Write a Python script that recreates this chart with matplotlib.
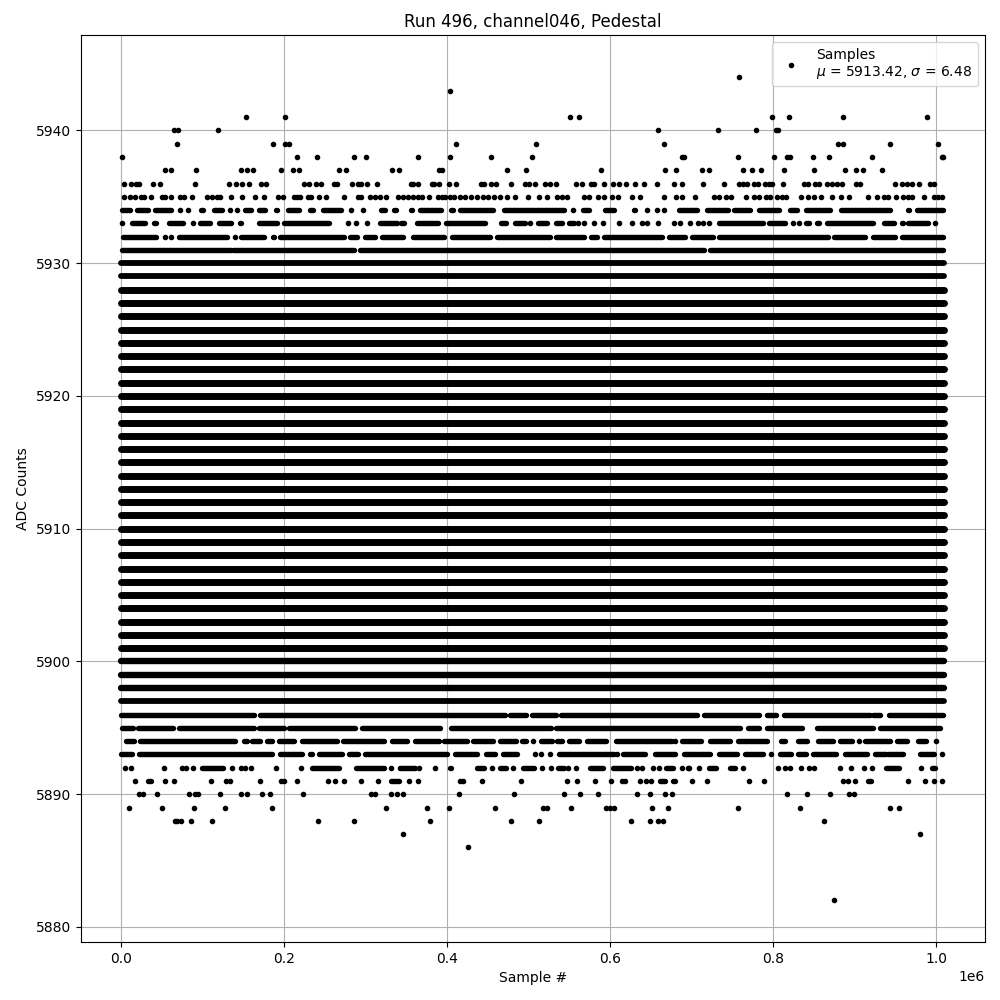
import matplotlib
matplotlib.use("Agg")
import matplotlib.pyplot as plt

# Sample positions are in units of 1e6 samples.
# Single visible points per ADC level
pts_5944 = [.758]
pts_5943 = [.403]
pts_5941 = [.153, .201, .551, .562, .799, .820, .886, .989]
pts_5940 = [.065, .069, .119, .659, .732, .779, .803, .806]
pts_5939 = [.068, .186, .201, .206, .411, .509, .666, .880, .886, .943, 1.003]
pts_5938 = [.001, .216, .240, .285, .300, .364, .403, .454, .504, .688, .691, .757, .801, .817, .821, .849, .869, .921, 1.007, 1.008]
pts_5937 = [.054, .061, .092, .147, .154, .162, .196, .211, .218, .267, .276, .332, .341, .390, .394, .473, .497, .589, .667, .681,
            .713, .721, .763, .774, .785, .813, .850, .888, .902, .910, .934]
pts_5936 = [.003, .012, .018, .022, .039, .047, .090, .132, .141, .148, .157, .171, .178, .224, .230, .239, .245, .261, .265, .283, .290, .294, .301, .314,
            .356, .358, .364, .381, .384, .390, .402, .411, .441, .445, .454, .460, .478, .495, .500, .508, .520, .526, .533, .558, .565, .576, .580, .592, .603, .611, .619, .630, .641, .657, .678, .688,
            .714, .740, .758, .763, .768, .776, .781, .790, .795, .799, .812, .838, .843, .851, .856, .866, .872, .878, .885, .902, .907, .950, .958, .964, .970, .979, .992, .997]
pts_5935 = [.003, .011, .017, .024, .028, .036, .050, .053, .061, .072, .077, .087, .105, .111, .117, .121, .135, .148, .164, .175, .192, .198, .212, .215, .219, .229, .233, .243, .251, .273, .290, .294, .305, .311, .317, .325, .340,
            .346, .352, .358, .364, .369, .378, .388, .394, .397, .403, .408, .416, .422, .429, .437, .444, .450, .457, .465, .473, .483, .499, .513, .522, .535, .541, .547, .568, .574, .585, .592, .602, .610, .627, .637, .666, .681, .688,
            .704, .727, .734, .742, .748, .767, .777, .783, .791, .796, .805, .811, .816, .834, .843, .850, .859, .872, .883, .893, .916, .927, .936, .941, .951, .959, .965, .970, .985, .997, 1.002, 1.007]
pts_5934 = [.072, .082, .133, .142, .282, .297, .554, .645, .657, .666]
pts_5933 = [.001, .088, .278, .288, .301, .502, .560, .568, .580, .591, .611, .627, .639, .645, .659, .678, .686,
            .698, .708, .714, .721, .824, .832, .999]
pts_5932 = [.053, .061, .139]
pts_5894 = [.505, .680, .905, .9999]
pts_5893 = [.508, .515, .526, .608, .797, 1.007]
pts_5892 = [.004, .012, .052, .074, .079, .088, .136, .147, .152, .159, .190, .220, .331, .342, .365, .385, .455, .481, .516, .527, .548, .558, .633, .639, .653, .660, .688, .695,
            .697, .709, .763, .806, .815, .821, .834, .844, .850, .882, .896, .911, .921, .981]
pts_5891 = [.017, .054, .065, .110, .128, .133, .170, .196, .199, .216, .254, .262, .273, .294, .315, .353, .364, .416, .419, .443, .491, .547, .559, .581, .601, .615, .618, .637, .644, .650,
            .700, .719, .770, .789, .886, .892, .900, .965, .986, .997, 1.007]
pts_5890 = [.022, .027, .044, .083, .090, .094, .121, .147, .154, .173, .182, .223, .306, .311, .338, .331, .346, .414, .482, .543, .563, .585, .633, .649, .667, .676,
            .817, .841, .870, .893, .899]
pts_5889 = [.009, .050, .089, .127, .185, .325, .375, .402, .459, .518, .522, .552, .595, .600, .605, .651, .671, .757, .833, .943, .954]
pts_5888 = [.066, .068, .073, .085, .111, .241, .285, .379, .478, .513, .626, .649, .659, .665, .862]
pts_5887 = [.346, .980]
pts_5886 = [.426]
pts_5882 = [.875]

# Stretches of a level where the points overlap into a solid run: (start, end)
runs_5934 = [(.001, .010), (.019, .032), (.041, .061), (.098, .100), (.114, .124), (.152, .159), (.169, .176), (.190, .191), (.205, .218), (.231, .235), (.248, .269), (.307, .308), (.319, .324), (.335, .337), (.355, .357), (.367, .392), (.405, .407), (.416, .456), (.469, .543), (.566, .574), (.593, .605), (.629, .630), (.685, .707), (.719, .744), (.752, .772), (.783, .807), (.821, .829), (.840, .870), (.883, .944), (.956, .956), (.966, .967), (.977, 1.008)]
runs_5933 = [(.013, .029), (.040, .042), (.058, .075), (.097, .109), (.120, .134), (.146, .147), (.169, .191), (.200, .255), (.317, .338), (.343, .347), (.363, .389), (.398, .446), (.466, .472), (.483, .495), (.511, .522), (.533, .541), (.549, .555), (.733, .787), (.795, .814), (.840, .844), (.854, .856), (.866, .923), (.936, .948), (.958, .960), (.966, .990)]
runs_5932 = [(.002, .042), (.070, .130), (.147, .175), (.186, .187), (.195, .273), (.280, .289), (.299, .311), (.320, .346), (.358, .396), (.406, .453), (.461, .526), (.534, .568), (.577, .584), (.592, .664), (.672, .692), (.700, .726), (.734, .867), (.875, .913), (.922, .950), (.958, 1.008)]
runs_5931 = [(.001, .134), (.137, .285), (.293, .715), (.722, 1.008)]
runs_5896 = [(.000, .163), (.170, .471), (.477, .496), (.504, .533), (.540, .707), (.715, .783), (.793, .804), (.813, .919), (.923, .931), (.942, 1.008)]
runs_5895 = [(.001, .014), (.020, .063), (.071, .163), (.169, .200), (.206, .287), (.295, .391), (.405, .527), (.533, .759), (.769, .783), (.793, .836), (.854, .923), (.931, 1.005)]
runs_5894 = [(.005, .015), (.023, .139), (.150, .154), (.160, .170), (.179, .185), (.193, .212), (.222, .265), (.272, .322), (.332, .351), (.360, .390), (.396, .424), (.432, .456), (.465, .484), (.492, .496), (.515, .529), (.535, .541), (.550, .562), (.571, .595), (.607, .676), (.688, .712), (.722, .747), (.757, .793), (.810, .815), (.830, .842), (.855, .874), (.882, .897), (.913, .944), (.952, .964), (.978, .988)]
runs_5893 = [(.000, .013), (.021, .185), (.195, .222), (.231, .234), (.243, .271), (.279, .290), (.299, .400), (.410, .436), (.447, .458), (.468, .486), (.537, .605), (.616, .643), (.655, .680), (.690, .723), (.733, .756), (.765, .788), (.808, .822), (.831, .840), (.849, .877), (.888, .915), (.925, .938), (.941, .960), (.970, .971), (.980, .997)]
runs_5892 = [(.099, .125), (.234, .267), (.288, .322), (.344, .360), (.403, .405), (.436, .445), (.465, .472), (.493, .506), (.536, .543), (.575, .591), (.604, .626), (.669, .677), (.721, .730), (.747, .753), (.938, .955), (.995, .999)]
runs_5891 = [(.032, .036), (.331, .341), (.661, .667), (.677, .680), (.916, .920)]

# Levels that are solid across the whole record, by how heavily they overplot
core_levels = list(range(5901, 5929))
shoulder_levels = [5898, 5899, 5900]
edge_levels = [5897, 5929, 5930]
full_start = 0.0
full_end = 1.0095

sparse_levels = [5944, 5943, 5941, 5940, 5939, 5938, 5937, 5936, 5935, 5934, 5933, 5932,
                 5894, 5893, 5892, 5891, 5890, 5889, 5888, 5887, 5886, 5882]
sparse_values = [pts_5944, pts_5943, pts_5941, pts_5940, pts_5939, pts_5938, pts_5937, pts_5936, pts_5935, pts_5934, pts_5933, pts_5932,
                 pts_5894, pts_5893, pts_5892, pts_5891, pts_5890, pts_5889, pts_5888, pts_5887, pts_5886, pts_5882]
run_levels = [5934, 5933, 5932, 5931, 5896, 5895, 5894, 5893, 5892, 5891]
run_values = [runs_5934, runs_5933, runs_5932, runs_5931, runs_5896, runs_5895, runs_5894, runs_5893, runs_5892, runs_5891]

title = "Run 496, channel046, Pedestal"
legend_label = "Samples\n$\\mu$ = 5913.42, $\\sigma$ = 6.48"

fig, ax = plt.subplots(figsize=(10, 10), dpi=100)
fig.subplots_adjust(left=0.081, right=0.985, top=0.965, bottom=0.058)

xs, ys = [], []
for lev, vals in zip(sparse_levels, sparse_values):
    for v in vals:
        xs.append(v * 1e6)
        ys.append(lev)
ax.plot(xs, ys, "k.", label=legend_label)

for lev, runs in zip(run_levels, run_values):
    for a, b in runs:
        ax.plot([a * 1e6, b * 1e6], [lev, lev], color="k", lw=3.9, solid_capstyle="round")
for levels, width in ((core_levels, 5.0), (shoulder_levels, 4.6), (edge_levels, 4.2)):
    for lev in levels:
        ax.plot([full_start * 1e6, full_end * 1e6], [lev, lev], color="k", lw=width, solid_capstyle="round")

ax.set_xlim(-0.0497e6, 1.0601e6)
ax.set_ylim(5878.87, 5947.19)
ax.grid(True)
ax.set_xlabel("Sample #")
ax.set_ylabel("ADC Counts")
ax.set_title(title)
ax.legend(loc="upper right")
fig.savefig("out.png", dpi=100)
